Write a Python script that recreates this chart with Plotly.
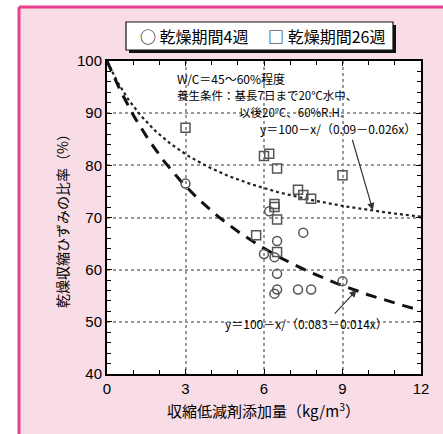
import numpy as np
import plotly.graph_objects as go

# Drying period 4 weeks (open circles)
x_4w = [3.0, 6.2, 7.5, 6.5, 6.0, 6.4, 6.5, 9.0, 7.3, 7.8, 6.5, 6.4]
y_4w = [76.5, 71.2, 67.1, 65.5, 63.0, 62.4, 59.2, 57.8, 56.2, 56.2, 56.2, 55.4]

# Drying period 26 weeks (open squares)
x_26w = [3.0, 6.0, 6.2, 6.5, 7.3, 7.5, 7.8, 9.0, 6.4, 6.4, 6.5, 5.7, 6.5]
y_26w = [87.2, 81.8, 82.2, 79.4, 75.3, 74.3, 73.6, 78.1, 72.6, 72.0, 69.6, 66.6, 63.4]

# Fitted curve coefficients: y = 100 - x / (a + b x)
fit_26w = [0.09, 0.026]
fit_4w = [0.083, 0.014]

x_ticks = [0, 3, 6, 9, 12]
y_ticks = [40, 50, 60, 70, 80, 90, 100]

JP = "Noto Sans CJK JP"
NUM = "Liberation Sans"

xc = np.linspace(0, 12, 200)
yc_26 = 100 - xc / (fit_26w[0] + fit_26w[1] * xc)
yc_4 = 100 - xc / (fit_4w[0] + fit_4w[1] * xc)

fig = go.Figure()
fig.add_trace(go.Scatter(x=xc, y=yc_26, mode="lines",
                         line=dict(color="#222", width=2.2, dash="dot"),
                         showlegend=False, hoverinfo="skip"))
fig.add_trace(go.Scatter(x=xc, y=yc_4, mode="lines",
                         line=dict(color="#111", width=3, dash="11px,8px"),
                         showlegend=False, hoverinfo="skip"))
fig.add_trace(go.Scatter(x=x_26w, y=y_26w, mode="markers",
                         marker=dict(symbol="square-open", size=9,
                                     color="#555", line=dict(width=1.5)),
                         showlegend=False))
fig.add_trace(go.Scatter(x=x_4w, y=y_4w, mode="markers",
                         marker=dict(symbol="circle-open", size=9,
                                     color="#555", line=dict(width=1.5)),
                         showlegend=False))

# Pink panel with magenta top/left rule
L, R, T, B = 107, 22, 61, 60
W, H = 443, 434
pw, ph = W - L - R, H - T - B
def px(xp):
    return (xp - L) / pw
def py(yp):
    return (H - B - yp) / ph

shapes = [
    dict(type="rect", xref="paper", yref="paper", x0=px(19), x1=px(443),
         y0=py(434), y1=py(7), fillcolor="#f8dce6", line=dict(width=0),
         layer="below"),
    # white plotting area on top of the panel
    dict(type="rect", xref="paper", yref="paper", x0=0, x1=1, y0=0, y1=1,
         fillcolor="white", line=dict(width=0), layer="below"),
    dict(type="line", xref="paper", yref="paper", x0=px(19), x1=px(443),
         y0=py(7), y1=py(7), line=dict(color="#e8408f", width=3)),
    dict(type="line", xref="paper", yref="paper", x0=px(19), x1=px(19),
         y0=py(434), y1=py(7), line=dict(color="#e8408f", width=3)),
    # legend box with drop shadow
    dict(type="rect", xref="paper", yref="paper", x0=px(129), x1=px(396),
         y0=py(53), y1=py(25), fillcolor="#111", line=dict(width=0)),
    dict(type="rect", xref="paper", yref="paper", x0=px(126), x1=px(393),
         y0=py(50), y1=py(22), fillcolor="white",
         line=dict(color="#111", width=1.2)),
]

annotations = [
    dict(xref="paper", yref="paper", x=px(262), y=py(36),
         xanchor="center", yanchor="middle",
         text="○ 乾燥期間4週　 □ 乾燥期間26週", showarrow=False,
         font=dict(family=JP, size=16, color="black")),
    dict(xref="paper", yref="paper", x=px(62), y=py(218),
         xanchor="center", yanchor="middle",
         text="乾燥収縮ひずみの比率（%）", textangle=-90, showarrow=False,
         font=dict(family=JP, size=14, color="black")),
    dict(xref="paper", yref="paper", x=px(263), y=py(410),
         xanchor="center", yanchor="middle",
         text="収縮低減剤添加量（kg/m<sup>3</sup>）", showarrow=False,
         font=dict(family=JP, size=15, color="black")),
    dict(x=2.6, y=96.65, xanchor="left", yanchor="middle",
         text="W/C＝45～60%程度",
         showarrow=False, font=dict(family=JP, size=12, color="black")),
    dict(x=2.6, y=93.39, xanchor="left", yanchor="middle",
         text="養生条件：基長7日まで20℃水中、",
         showarrow=False, font=dict(family=JP, size=11.5, color="black")),
    dict(x=4.98, y=90.22, xanchor="left", yanchor="middle",
         text="以後20℃、60%R.H.",
         showarrow=False, font=dict(family=JP, size=11.5, color="black")),
    dict(x=5.77, y=87.0, xanchor="left", yanchor="middle",
         text="y＝100－x/（0.09－0.026x）",
         showarrow=False, font=dict(family=JP, size=12, color="black")),
    dict(x=4.43, y=49.6, xanchor="left", yanchor="middle",
         text="y＝100－x/（0.083－0.014x）",
         showarrow=False, font=dict(family=JP, size=12, color="black")),
    dict(x=10.16, y=71.4, ax=9.36, ay=85.2, axref="x", ayref="y",
         text="", showarrow=True, arrowhead=2, arrowsize=1.2,
         arrowwidth=1.2, arrowcolor="#333"),
    dict(x=9.54, y=56.1, ax=8.65, ay=51.3, axref="x", ayref="y",
         text="", showarrow=True, arrowhead=2, arrowsize=1.2,
         arrowwidth=1.2, arrowcolor="#333"),
]

axis_common = dict(showline=True, linecolor="black", linewidth=2,
                   mirror="ticks", ticks="inside", ticklen=5, tickwidth=1.2,
                   tickcolor="black", showgrid=True, gridcolor="#999",
                   griddash="dot", gridwidth=1.5, zeroline=False,
                   tickfont=dict(family=NUM, size=15, color="black"))

fig.update_layout(
    width=W, height=H,
    margin=dict(l=L, r=R, t=T, b=B),
    paper_bgcolor="white", plot_bgcolor="white",
    shapes=shapes, annotations=annotations,
    showlegend=False,
    xaxis=dict(range=[0, 12], tickvals=x_ticks,
               minor=dict(dtick=1, ticks="inside", ticklen=4,
                          tickcolor="black", showgrid=False),
               **axis_common),
    yaxis=dict(range=[40, 100], tickvals=y_ticks,
               minor=dict(dtick=2, ticks="inside", ticklen=4,
                          tickcolor="black", showgrid=False),
               **axis_common),
)

fig.write_html("out.html")
